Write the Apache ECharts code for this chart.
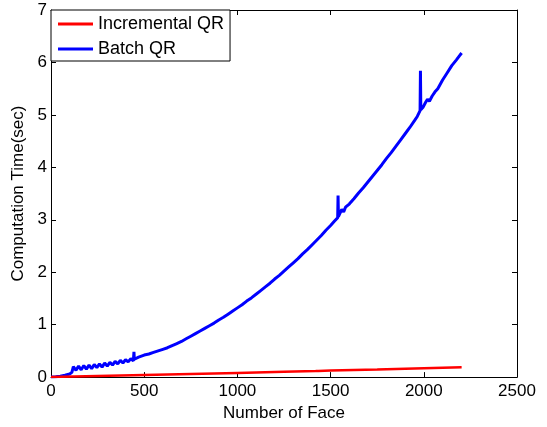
<!DOCTYPE html>
<html>
<head>
<meta charset="utf-8">
<script src="https://cdn.jsdelivr.net/npm/echarts@6/dist/echarts.min.js"></script>
<style>
  html, body { margin: 0; padding: 0; background: #fff; }
  #chart { width: 547px; height: 427px; }
</style>
</head>
<body>
<div id="chart"></div>
<script>
// x values (number of faces) and times (sec)
const batchFaces = [0, 25, 50, 75, 100, 112, 120, 134, 148, 162, 176, 190, 204, 218, 232, 246, 260, 274, 288, 302, 316, 330, 344, 358, 372, 386, 400, 414, 428, 442, 445, 447, 456, 470, 485, 500,
  525, 550, 575, 600, 625, 650, 675, 700, 725, 750, 775, 800, 825, 850, 875, 900, 925, 950, 975, 1000,
  1025, 1050, 1075, 1100, 1125, 1150, 1175, 1200, 1225, 1250, 1275, 1300, 1325, 1350, 1375, 1400, 1425, 1450, 1475, 1500, 1520, 1538, 1540, 1542, 1550, 1560, 1570, 1580, 1590, 1600,
  1625, 1650, 1675, 1700, 1725, 1750, 1775, 1800, 1825, 1850, 1875, 1900, 1925, 1950, 1965, 1980, 1982, 1984, 1995, 2010, 2020, 2030, 2045, 2060, 2075, 2100, 2125, 2150, 2175, 2190, 2203];
const batchTimes = [0, 0.005, 0.015, 0.035, 0.06, 0.09, 0.2, 0.13, 0.21, 0.14, 0.22, 0.15, 0.23, 0.16, 0.24, 0.18, 0.25, 0.19, 0.27, 0.21, 0.28, 0.23, 0.3, 0.25, 0.32, 0.27, 0.33, 0.29, 0.35, 0.31, 0.48, 0.34, 0.37, 0.38, 0.4, 0.42,
  0.44, 0.47, 0.5, 0.53, 0.56, 0.6, 0.64, 0.68, 0.73, 0.78, 0.83, 0.88, 0.93, 0.98, 1.03, 1.09, 1.14, 1.2, 1.26, 1.32,
  1.38, 1.45, 1.51, 1.58, 1.65, 1.72, 1.79, 1.87, 1.94, 2.02, 2.1, 2.18, 2.26, 2.35, 2.43, 2.52, 2.61, 2.7, 2.8, 2.89, 2.97, 3.04, 3.46, 3.06, 3.12, 3.2, 3.15, 3.24, 3.21, 3.3,
  3.4, 3.51, 3.61, 3.72, 3.83, 3.94, 4.05, 4.17, 4.28, 4.4, 4.52, 4.64, 4.76, 4.89, 4.97, 5.08, 5.84, 5.1, 5.14, 5.24, 5.3, 5.26, 5.36, 5.44, 5.5, 5.66, 5.8, 5.94, 6.05, 6.12, 6.18];

const incrFaces = [0, 250, 500, 750, 1000, 1250, 1420, 1427, 1434, 1500, 1750, 2000, 2203];
const incrTimes = [0, 0.02, 0.04, 0.06, 0.08, 0.1, 0.115, 0.135, 0.118, 0.125, 0.145, 0.17, 0.19];

const xTicks = [0, 2500, 500];  // min, max, step
const yTicks = [0, 7, 1];

const FONT = '"Liberation Sans", Arial, sans-serif';

const toPairs = (xs, ys) => xs.map((x, i) => [x, ys[i]]);

const chart = echarts.init(document.getElementById('chart'));

const boxAxis = (extra) => Object.assign({
  type: 'value',
  axisLine: { show: true, onZero: false, lineStyle: { color: '#000', width: 1 } },
  axisTick: { show: true, inside: true, length: 5, lineStyle: { color: '#000' } },
  splitLine: { show: false },
}, extra);

const tickLabel = { fontFamily: FONT, fontSize: 17, color: '#000', formatter: v => String(v) };

chart.setOption({
  animation: false,
  backgroundColor: '#fff',
  grid: { left: 51, right: 30, top: 10, bottom: 48, containLabel: false },
  legend: {
    orient: 'vertical',
    left: 51,
    top: 10,
    padding: [4, 6, 2, 7],
    itemGap: 5,
    itemWidth: 35,
    itemHeight: 3,
    icon: 'rect',
    backgroundColor: '#fff',
    borderColor: '#000',
    borderWidth: 1,
    borderRadius: 0,
    textStyle: { fontFamily: FONT, fontSize: 18, color: '#000', lineHeight: 20 },
    data: ['Incremental QR', 'Batch QR'],
  },
  xAxis: [
    boxAxis({
      min: xTicks[0], max: xTicks[1], interval: xTicks[2],
      position: 'bottom',
      name: 'Number of Face',
      nameLocation: 'middle',
      nameGap: 25,
      nameTextStyle: { fontFamily: FONT, fontSize: 17, color: '#000' },
      axisLabel: Object.assign({ margin: 6 }, tickLabel),
    }),
    boxAxis({
      min: xTicks[0], max: xTicks[1], interval: xTicks[2],
      position: 'top',
      axisLabel: { show: false },
    }),
  ],
  yAxis: [
    boxAxis({
      min: yTicks[0], max: yTicks[1], interval: yTicks[2],
      position: 'left',
      name: 'Computation Time(sec)',
      nameLocation: 'middle',
      nameGap: 22,
      nameTextStyle: { fontFamily: FONT, fontSize: 17, color: '#000' },
      axisLabel: Object.assign({ margin: 4 }, tickLabel),
    }),
    boxAxis({
      min: yTicks[0], max: yTicks[1], interval: yTicks[2],
      position: 'right',
      axisLabel: { show: false },
    }),
  ],
  series: [
    {
      name: 'Incremental QR',
      type: 'line',
      data: toPairs(incrFaces, incrTimes),
      showSymbol: false,
      symbol: 'none',
      color: '#ff0000',
      lineStyle: { color: '#ff0000', width: 2.5 },
      z: 3,
    },
    {
      name: 'Batch QR',
      type: 'line',
      data: toPairs(batchFaces, batchTimes),
      showSymbol: false,
      symbol: 'none',
      color: '#0000ff',
      lineStyle: { color: '#0000ff', width: 3 },
      z: 2,
    },
  ],
});
</script>
</body>
</html>
